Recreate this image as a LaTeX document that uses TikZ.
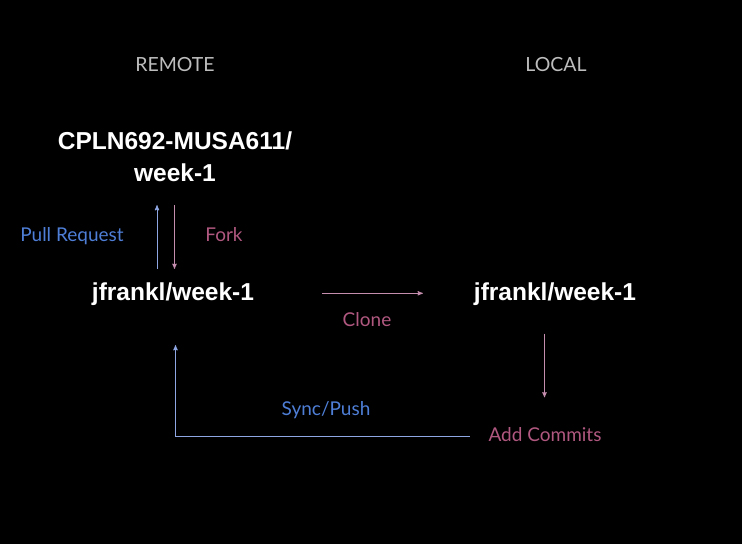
\documentclass[tikz,border=0pt]{standalone}
\usepackage{xcolor}
\usepackage{fontspec}
\setmainfont{Lato}
\newfontfamily\reposans{Liberation Sans}
\usepackage{tikz}
\usetikzlibrary{arrows, positioning, calc, graphs}
\definecolor{headgray}{HTML}{BDBDBD}
\definecolor{prblue}{HTML}{4E7ED6}
\definecolor{forkpink}{HTML}{B0587F}
\definecolor{bluearrow}{HTML}{8EA7E3}
\definecolor{pinkarrow}{HTML}{C58EAE}
\tikzset{
>=stealth',
hv path/.style={to path={-| (\tikztotarget)}},
head/.style={%
    inner sep=0pt, anchor=base, text=headgray,
    font=\fontsize{19.5}{19.5}\selectfont
},
repo/.style={%
    inner sep=0pt, anchor=base, text=white, align=center,
    font=\reposans\bfseries\fontsize{24.5}{31.5}\selectfont
},
blueact/.style={%
    inner sep=0pt, anchor=base, text=prblue,
    font=\fontsize{19}{19}\selectfont
},
pinkact/.style={%
    blueact, text=forkpink
},
junction/.style={circle,inner sep=0pt,minimum size=0pt},
bluelink/.style={draw=bluearrow, line width=0.9pt},
pinklink/.style={draw=pinkarrow, line width=0.9pt},
}

\begin{document}
\begin{tikzpicture}[x=1pt, y=-1pt]
	\useasboundingbox (0,0) rectangle (742,544);
	\fill[black] (0,0) rectangle (742,544);

	% column headers
	\node[head] (remote) at (175,71) {REMOTE};
	\node[head] (local) at (556,71) {LOCAL};

	% repositories (base = last line)
	\node[repo] (upstream) at (175,181) {CPLN692-MUSA611/\\week-1};
	\node[repo] (origin) at (173,300) {jfrankl/week-1};
	\node[repo] (clone) at (555,300) {jfrankl/week-1};

	% actions
	\node[blueact] (pr) at (72,241.7) {Pull Request};
	\node[pinkact] (fork) at (224,241.7) {Fork};
	\node[pinkact] (clonelbl) at (367,326.7) {Clone};
	\node[pinkact] (commits) at (545,441.7) {Add Commits};
	\node[blueact] (sync) at (326,415) {Sync/Push};

	% arrow ends
	\node[junction] (pr0) at (157,269) {};
	\node[junction] (pr1) at (157,205) {};
	\node[junction] (fk0) at (174.5,205) {};
	\node[junction] (fk1) at (174.5,269) {};
	\node[junction] (cl0) at (322,293.3) {};
	\node[junction] (cl1) at (423,293.3) {};
	\node[junction] (ac0) at (544.5,333.5) {};
	\node[junction] (ac1) at (544.5,397.5) {};
	\node[junction] (sp0) at (470,436.5) {};
	\node[junction] (sp1) at (175.5,345) {};

\graph [use existing nodes] {
pr0 ->[bluelink] pr1;
fk0 ->[pinklink] fk1;
cl0 ->[pinklink] cl1;
ac0 ->[pinklink] ac1;
sp0 ->[bluelink, hv path] sp1;
};
\end{tikzpicture}
\end{document}
